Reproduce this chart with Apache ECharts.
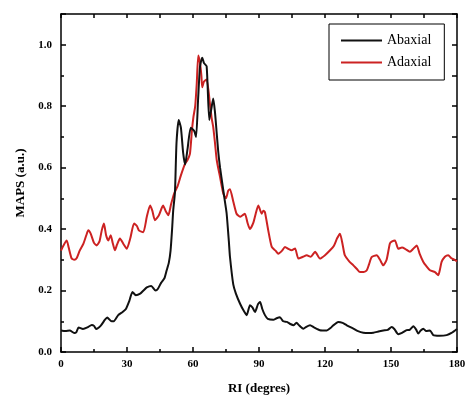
<!DOCTYPE html>
<html>
<head>
<meta charset="utf-8">
<script src="https://cdn.jsdelivr.net/npm/echarts@6/dist/echarts.min.js"></script>
<style>
  html, body { margin: 0; padding: 0; background: #fff; }
  #chart { width: 465px; height: 397px; }
</style>
</head>
<body>
<div id="chart"></div>
<script>
// Abaxial (black)
var abaxialAngles = [0, 2, 4, 6, 7, 8, 10, 12, 14, 15, 16, 18, 20, 21, 23, 24, 26, 28, 29.5, 31, 32.5, 34, 36, 37.5, 39, 41, 43, 44, 45.5, 47, 48, 49, 49.8, 50.5, 51, 51.8, 52.5, 53.5, 54.5, 55.5, 56.4, 57.5, 59, 60.5, 61.4, 62.3, 63.2, 64.2, 65, 66.2, 67.4, 68.3, 69.2, 70, 70.8, 71.5, 72.3, 73.5, 74.5, 75.3, 76.3, 76.8, 78.3, 79.5, 81.4, 83, 84.4, 85.9, 87, 88.2, 89.5, 90.5, 91.5, 92.7, 94, 96.5, 98, 99.5, 101, 102.7, 104, 105.8, 107, 108.5, 110.2, 111.5, 113.2, 115, 117.7, 120.8, 122.5, 123.8, 126, 128, 129.9, 132.9, 135, 137.4, 140, 142, 144, 146.5, 148.5, 150.3, 151.5, 153.3, 155, 157.1, 158.5, 160.2, 161.5, 162.4, 163.5, 164.7, 166, 167.7, 169.2, 172, 175.3, 177.5, 180];
var abaxialValues = [0.07, 0.068, 0.07, 0.062, 0.065, 0.08, 0.075, 0.08, 0.088, 0.085, 0.075, 0.085, 0.105, 0.112, 0.1, 0.1, 0.12, 0.13, 0.14, 0.165, 0.195, 0.185, 0.19, 0.2, 0.21, 0.215, 0.2, 0.205, 0.225, 0.24, 0.265, 0.29, 0.33, 0.4, 0.46, 0.52, 0.68, 0.755, 0.73, 0.65, 0.61, 0.66, 0.73, 0.72, 0.7, 0.82, 0.93, 0.958, 0.94, 0.93, 0.755, 0.79, 0.825, 0.78, 0.71, 0.65, 0.6, 0.54, 0.49, 0.45, 0.36, 0.31, 0.22, 0.19, 0.157, 0.135, 0.12, 0.152, 0.145, 0.13, 0.155, 0.163, 0.14, 0.12, 0.108, 0.105, 0.11, 0.113, 0.1, 0.098, 0.092, 0.087, 0.095, 0.085, 0.076, 0.082, 0.087, 0.08, 0.071, 0.07, 0.078, 0.087, 0.098, 0.095, 0.087, 0.076, 0.068, 0.063, 0.062, 0.063, 0.066, 0.07, 0.072, 0.081, 0.075, 0.058, 0.062, 0.071, 0.072, 0.084, 0.072, 0.06, 0.07, 0.076, 0.068, 0.07, 0.055, 0.053, 0.055, 0.062, 0.075];

// Adaxial (red)
var adaxialAngles = [0, 1, 2.6, 3.5, 4.8, 6, 7.1, 8.5, 10.2, 11.5, 12.4, 13.5, 15, 16.2, 17.5, 18.5, 19.5, 20.5, 21.5, 22.6, 23.5, 24.5, 25.5, 26.8, 28.5, 29.9, 31.5, 33.2, 34.5, 35.5, 37.4, 39, 40.5, 41.5, 42.7, 44.5, 46.4, 47.5, 48.8, 50, 51.4, 53, 54.5, 56.4, 57.5, 58.6, 59.5, 60.2, 61, 61.7, 62.4, 63.2, 63.8, 64.2, 65, 66.2, 67.7, 68.5, 69.2, 70, 70.8, 72.3, 73.8, 75, 76, 76.8, 78.3, 79.8, 81.4, 82.5, 83.6, 84.8, 85.9, 87.4, 88.5, 89.7, 91.2, 92, 92.7, 94.2, 95.8, 97.5, 98.8, 100.5, 101.8, 103.5, 104.8, 106.4, 107.9, 110, 111.7, 113.5, 115.5, 117.7, 120, 122.3, 124, 125.5, 126.8, 128, 129, 131, 132.9, 134.5, 135.9, 137.5, 139, 140, 141.2, 143.5, 145, 146.5, 148, 149.5, 150.5, 151.8, 153.3, 155, 156.4, 158.6, 160, 161.7, 163, 164.7, 166, 167.7, 170, 171.5, 172.3, 173, 174.5, 176, 177.5, 179, 180];
var adaxialValues = [0.33, 0.345, 0.363, 0.34, 0.305, 0.3, 0.305, 0.33, 0.353, 0.38, 0.396, 0.385, 0.355, 0.347, 0.36, 0.395, 0.418, 0.38, 0.363, 0.38, 0.355, 0.331, 0.35, 0.369, 0.35, 0.336, 0.37, 0.418, 0.41, 0.395, 0.39, 0.44, 0.477, 0.46, 0.429, 0.445, 0.477, 0.46, 0.445, 0.48, 0.515, 0.54, 0.575, 0.613, 0.625, 0.645, 0.72, 0.765, 0.8, 0.873, 0.965, 0.94, 0.9, 0.862, 0.88, 0.887, 0.808, 0.76, 0.732, 0.68, 0.624, 0.569, 0.515, 0.5, 0.525, 0.53, 0.49, 0.45, 0.44, 0.445, 0.45, 0.42, 0.4, 0.42, 0.45, 0.477, 0.45, 0.46, 0.455, 0.396, 0.342, 0.33, 0.32, 0.33, 0.342, 0.335, 0.331, 0.337, 0.304, 0.31, 0.315, 0.31, 0.326, 0.304, 0.315, 0.331, 0.345, 0.37, 0.385, 0.35, 0.315, 0.295, 0.282, 0.27, 0.26, 0.26, 0.266, 0.285, 0.309, 0.315, 0.3, 0.282, 0.3, 0.353, 0.36, 0.363, 0.336, 0.34, 0.336, 0.326, 0.335, 0.347, 0.32, 0.293, 0.28, 0.266, 0.26, 0.25, 0.27, 0.293, 0.31, 0.315, 0.305, 0.3, 0.295];

var seriesNames = ['Abaxial', 'Adaxial'];

function pairs(xs, ys) {
  return xs.map(function (x, i) { return [x, ys[i]]; });
}

var chart = echarts.init(document.getElementById('chart'));
var font = 'Liberation Serif';
var frameLine = { show: true, onZero: false, lineStyle: { color: '#000', width: 1.5 } };

chart.setOption({
  backgroundColor: '#fff',
  animation: false,
  grid: { left: 61, right: 8, top: 14, bottom: 45, containLabel: false, outerBoundsMode: 'none' },
  legend: {
    data: seriesNames,
    orient: 'vertical',
    left: 329,
    top: 24,
    padding: [9, 13, 10, 12],
    itemGap: 7,
    itemWidth: 41,
    itemHeight: 2,
    icon: 'rect',
    borderColor: '#000',
    borderWidth: 1,
    backgroundColor: '#fff',
    textStyle: { fontFamily: font, fontSize: 14, color: '#000', lineHeight: 15 }
  },
  xAxis: [{
    type: 'value',
    min: 0, max: 180, interval: 30,
    name: 'RI (degres)',
    nameLocation: 'middle',
    nameGap: 30,
    nameTextStyle: { fontFamily: font, fontWeight: 'bold', fontSize: 13, color: '#000' },
    axisLine: frameLine,
    axisTick: { inside: true, length: 5, lineStyle: { color: '#000', width: 1.5 } },
    minorTick: { show: true, splitNumber: 2, length: 3, lineStyle: { color: '#000', width: 1.5 } },
    axisLabel: { margin: 7, fontFamily: font, fontWeight: 'bold', fontSize: 11, color: '#000' },
    splitLine: { show: false }
  }, {
    type: 'value', position: 'top',
    min: 0, max: 180, interval: 30,
    axisLine: frameLine,
    axisTick: { inside: true, length: 4, lineStyle: { color: '#000', width: 1.5 } },
    minorTick: { show: true, splitNumber: 2, length: 4, lineStyle: { color: '#000', width: 1.5 } },
    axisLabel: { show: false },
    splitLine: { show: false }
  }],
  yAxis: [{
    type: 'value',
    min: 0, max: 1.1, interval: 0.2,
    name: 'MAPS (a.u.)',
    nameLocation: 'middle',
    nameGap: 31,
    nameTextStyle: { fontFamily: font, fontWeight: 'bold', fontSize: 13, color: '#000' },
    axisLine: frameLine,
    axisTick: { inside: true, length: 5, lineStyle: { color: '#000', width: 1.5 } },
    minorTick: { show: true, splitNumber: 2, length: 3, lineStyle: { color: '#000', width: 1.5 } },
    axisLabel: {
      margin: 9, fontFamily: font, fontWeight: 'bold', fontSize: 11, color: '#000',
      showMaxLabel: false,
      formatter: function (v) { return v > 1.05 ? '' : v.toFixed(1); }
    },
    splitLine: { show: false }
  }, {
    type: 'value', position: 'right',
    min: 0, max: 1.1, interval: 0.2,
    axisLine: frameLine,
    axisTick: { inside: true, length: 5, lineStyle: { color: '#000', width: 1.5 } },
    minorTick: { show: true, splitNumber: 2, length: 5, lineStyle: { color: '#000', width: 1.5 } },
    axisLabel: { show: false },
    splitLine: { show: false }
  }],
  series: [{
    name: seriesNames[0],
    type: 'line',
    data: pairs(abaxialAngles, abaxialValues),
    showSymbol: false,
    smooth: 0.2,
    color: '#111',
    lineStyle: { width: 2 },
    z: 3
  }, {
    name: seriesNames[1],
    type: 'line',
    data: pairs(adaxialAngles, adaxialValues),
    showSymbol: false,
    smooth: 0.2,
    color: '#cc2222',
    lineStyle: { width: 2 },
    z: 2
  }]
});
</script>
</body>
</html>
